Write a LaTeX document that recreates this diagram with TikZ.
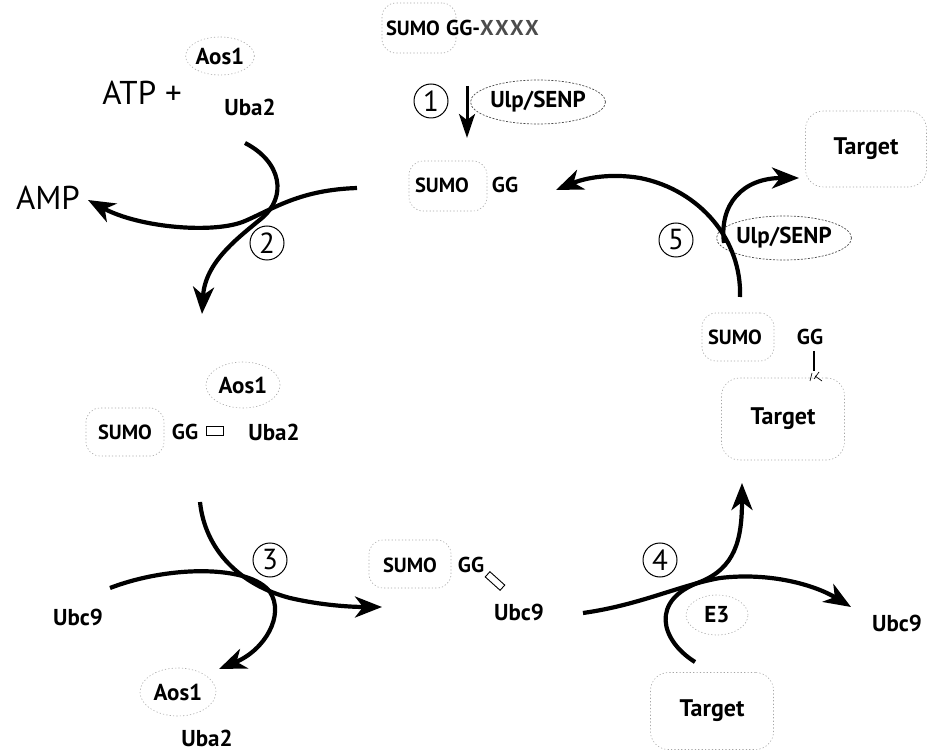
\documentclass[tikz,border=0pt]{standalone}
\usepackage{fontspec}
\setmainfont{PT Sans}
\usetikzlibrary{arrows.meta,shapes.geometric}
\begin{document}
\begin{tikzpicture}[x=1pt,y=-1pt,
  lbl/.style={inner sep=0pt,font=\bfseries\fontsize{23}{25}\selectfont},
  sumo/.style={inner sep=0pt,font=\bfseries\fontsize{20.5}{22}\selectfont},
  gg/.style={inner sep=0pt,font=\bfseries\fontsize{21.5}{23}\selectfont},
  tgt/.style={inner sep=0pt,font=\bfseries\fontsize{24}{26}\selectfont},
  big/.style={inner sep=0pt,font=\fontsize{33}{35}\selectfont},
  faint/.style={draw=black!35,dash pattern=on 1.2pt off 2.2pt,line width=0.6pt},
  fbox/.style={faint,rounded corners=14pt},
  fell/.style={faint,ellipse},
  enz/.style={draw=black!70,dash pattern=on 2pt off 1.5pt,line width=0.7pt,ellipse,inner sep=0pt},
  num/.style={circle,draw,line width=1pt,minimum size=34pt,inner sep=0pt,font=\fontsize{29}{29}\selectfont},
  flow/.style={line width=4.2pt},
  arr/.style={flow,-{Stealth[length=27pt,width=21pt,inset=8pt]}},
]
\useasboundingbox (0,0) rectangle (927,751);

% ---------- top: precursor and step 1
\node[fbox,minimum width=74pt,minimum height=50pt] (b0) at (419,28) {};
\node[sumo] (sumo0) at (413,28) {SUMO};
\node[gg,anchor=west] (gg0) at (446,28) {GG-{\color{black!70}\addfontfeature{LetterSpace=10}XXXX}};
\node[num] (n1) at (431,101) {1};
\node[lbl,enz,minimum width=105pt,minimum height=44pt] (ulp1) at (538,102) {Ulp/SENP};
\coordinate (a1s) at (467,86);
\coordinate (a1e) at (467,138);
\draw[line width=3pt,-{Stealth[length=24pt,width=16pt,inset=6pt]}] (a1s) -- (a1e);

\node[fbox,minimum width=78pt,minimum height=50pt] (b1) at (448,186) {};
\node[sumo] (sumo1) at (442,185) {SUMO};
\node[gg] (gg1) at (505,185) {GG};

% ---------- top left: step 2
\node[lbl,fell,inner sep=0pt,minimum width=58pt,minimum height=38pt] (aos0) at (220,56) {Aos1};
\node[big] (atp) at (142,93) {ATP +};
\node[lbl] (uba0) at (250,107) {Uba2};
\node[big] (amp) at (48,198) {AMP};
\node[num] (n2) at (267,243) {2};
\coordinate (c2a) at (245,143);
\coordinate (c2b) at (202,314);
\coordinate (c2c) at (357,188);
\coordinate (c2d) at (88,200);
\draw[arr] (c2a) .. controls (282,162) and (287,197) .. (262,218) .. controls (238,238) and (205,262) .. (c2b);
\draw[arr] (c2c) .. controls (300,190) and (275,208) .. (245,221) .. controls (215,234) and (140,228) .. (c2d);

% ---------- middle left: thioester with E1
\node[lbl,fell,minimum width=74pt,minimum height=46pt] (aos1) at (243,385) {Aos1};
\node[fbox,minimum width=78pt,minimum height=48pt] (b2) at (125,432) {};
\node[sumo] (sumo2) at (125,432) {SUMO};
\node[gg] (gg2) at (185,432) {GG};
\node[draw,line width=1pt,minimum width=17pt,minimum height=8pt,inner sep=0pt] (te2) at (215,431) {};
\node[lbl] (uba1) at (274,432) {Uba2};

% ---------- bottom left: step 3
\node[num] (n3) at (270,560) {3};
\node[lbl] (ubc0) at (78,617) {Ubc9};
\node[lbl,fell,minimum width=76pt,minimum height=48pt] (aos2) at (178,692) {Aos1};
\node[lbl] (uba2) at (207,738) {Uba2};
\coordinate (c3a) at (200,502);
\coordinate (c3b) at (382,607);
\coordinate (c3c) at (110,588);
\coordinate (c3d) at (219,669);
\draw[arr] (c3a) .. controls (205,550) and (240,585) .. (290,598) .. controls (320,605) and (350,607) .. (c3b);
\draw[arr] (c3c) .. controls (170,565) and (250,565) .. (270,592) .. controls (285,615) and (265,650) .. (c3d);

% ---------- middle: thioester with Ubc9
\node[fbox,minimum width=82pt,minimum height=48pt] (b3) at (410,564) {};
\node[sumo] (sumo3) at (410,565) {SUMO};
\node[gg] (gg3) at (471,565) {GG};
\node[draw,line width=0.9pt,minimum width=20pt,minimum height=7pt,inner sep=0pt,rotate=-42] (te3) at (495,581) {};
\node[lbl] (ubc1) at (519,612) {Ubc9};

% ---------- bottom right: step 4
\node[num] (n4) at (660,560) {4};
\node[lbl,fell,minimum width=62pt,minimum height=40pt] (e3) at (717,615) {E3};
\node[lbl] (ubc2) at (897,623) {Ubc9};
\node[tgt,fbox,rounded corners=18pt,minimum width=123pt,minimum height=77pt] (t0) at (712,711) {Target};
\coordinate (c4a) at (583,613);
\coordinate (c4b) at (851,607);
\coordinate (c4c) at (695,662);
\coordinate (c4d) at (742,483);
\draw[arr] (c4a) .. controls (640,605) and (680,585) .. (720,578) .. controls (770,572) and (815,585) .. (c4b);
\draw[arr] (c4c) .. controls (660,640) and (650,600) .. (700,582) .. controls (735,568) and (742,540) .. (c4d);

% ---------- right: conjugate and step 5
\node[tgt,fbox,rounded corners=18pt,minimum width=123pt,minimum height=82pt] (t1) at (783,419) {Target};
\node[fbox,minimum width=72pt,minimum height=48pt] (b4) at (738,337) {};
\node[sumo] (sumo4) at (735,337) {SUMO};
\node[gg] (gg4) at (810,337) {GG};
\coordinate (lk0) at (814,351);
\coordinate (lk1) at (814,371);
\draw[line width=2.8pt] (lk0) -- (lk1);
\draw[line width=0.7pt] (810,381) -- (812,373) (814,379) -- (819,372) (815,376) -- (822,381);
\node[num] (n5) at (676,240) {5};
\node[lbl,enz,minimum width=102pt,minimum height=44pt] (ulp2) at (784,238) {Ulp/SENP};
\node[tgt,fbox,rounded corners=18pt,minimum width=121pt,minimum height=76pt] (t2) at (866,149) {Target};
\coordinate (c5a) at (740,297);
\coordinate (c5b) at (556,190);
\coordinate (c5c) at (724,243);
\coordinate (c5d) at (799,178);
\draw[arr] (c5a) .. controls (742,240) and (700,190) .. (640,178) .. controls (610,173) and (585,178) .. (c5b);
\draw[arr] (c5c) .. controls (719,205) and (742,178) .. (c5d);
\end{tikzpicture}
\end{document}
